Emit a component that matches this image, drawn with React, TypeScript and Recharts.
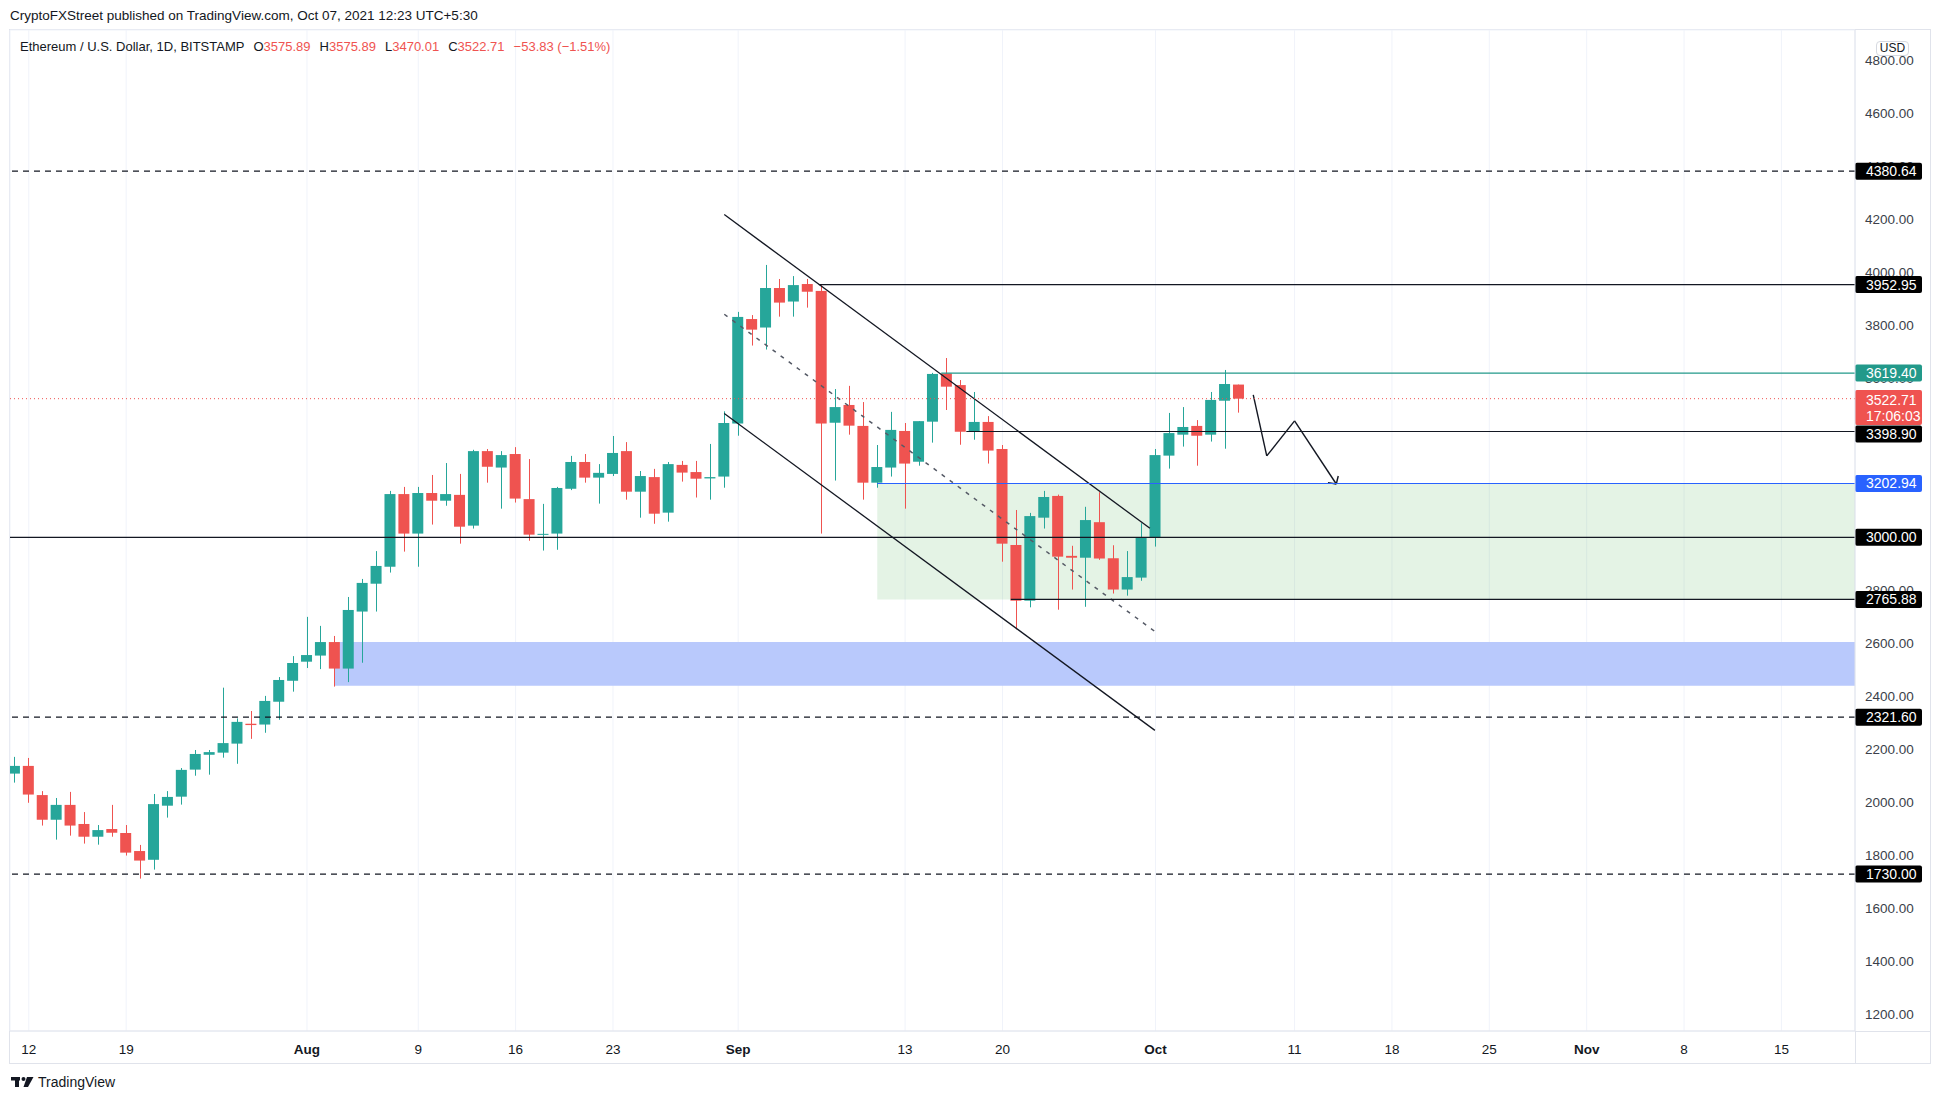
import React from 'react';
import { ComposedChart, Bar, XAxis, YAxis, CartesianGrid, ReferenceLine, ReferenceArea } from 'recharts';

const FONT = '"Liberation Sans", Arial, sans-serif';
const GREEN = '#26a69a';
const RED = '#ef5350';
const TEAL = '#22998a';
const BLUE = '#2962ff';
const INK = '#131722';

// ---- daily candles (1D), ETH/USD Bitstamp ----
const dates = [
  'Jul 11','Jul 12','Jul 13','Jul 14','Jul 15','Jul 16','Jul 17','Jul 18','Jul 19','Jul 20','Jul 21','Jul 22','Jul 23','Jul 24','Jul 25','Jul 26','Jul 27','Jul 28','Jul 29','Jul 30','Jul 31',
  'Aug 1','Aug 2','Aug 3','Aug 4','Aug 5','Aug 6','Aug 7','Aug 8','Aug 9','Aug 10','Aug 11','Aug 12','Aug 13','Aug 14','Aug 15','Aug 16','Aug 17','Aug 18','Aug 19','Aug 20','Aug 21','Aug 22','Aug 23','Aug 24','Aug 25','Aug 26','Aug 27','Aug 28','Aug 29','Aug 30','Aug 31',
  'Sep 1','Sep 2','Sep 3','Sep 4','Sep 5','Sep 6','Sep 7','Sep 8','Sep 9','Sep 10','Sep 11','Sep 12','Sep 13','Sep 14','Sep 15','Sep 16','Sep 17','Sep 18','Sep 19','Sep 20','Sep 21','Sep 22','Sep 23','Sep 24','Sep 25','Sep 26','Sep 27','Sep 28','Sep 29','Sep 30',
  'Oct 1','Oct 2','Oct 3','Oct 4','Oct 5','Oct 6','Oct 7',
];
const opens = [
  2109,2138,2028,1935,1991,1919,1871,1900,1885,1817,1784,1988,2022,2124,2180,2188,2222,2297,2294,2380,2459,
  2531,2554,2605,2505,2720,2825,2889,3163,3014,3167,3138,3160,3044,3325,3263,3314,3144,3010,3014,3183,3284,3225,3239,3325,3172,3227,3093,3273,3246,3222,3229,
  3429,3823,3791,3940,3889,3955,3929,3432,3499,3420,3206,3263,3401,3285,3436,3618,3574,3398,3435,3333,2971,2761,3074,3156,2930,2923,3057,2921,2803,2848,
  2999,3308,3387,3420,3387,3515,3575.89,
];
const highs = [
  2172,2168,2043,2017,2040,1964,1915,1991,1915,1840,2032,2043,2130,2198,2198,2433,2317,2345,2402,2473,2552,
  2700,2666,2628,2775,2843,2948,3175,3190,3190,3235,3280,3239,3330,3333,3325,3340,3295,3126,3190,3307,3314,3276,3382,3359,3250,3258,3284,3288,3288,3352,3475,
  3850,3838,4027,3974,3985,3974,3951,3559,3571,3510,3348,3473,3431,3438,3620,3676,3593,3548,3457,3348,3103,3092,3175,3161,2968,3115,3170,2970,2948,3053,
  3333,3469,3491,3442,3548,3631,3575.89,
];
const lows = [
  2075,1999,1913,1860,1875,1845,1841,1871,1800,1713,1747,1943,1992,2101,2105,2169,2146,2240,2263,2312,2418,
  2507,2503,2437,2454,2527,2720,2867,2946,2889,3048,3119,2976,3033,3206,3108,3131,2987,2950,2953,3178,3206,3127,3231,3142,3074,3051,3059,3210,3150,3142,3187,
  3383,3723,3708,3832,3832,3866,3014,3214,3387,3142,3187,3229,3108,3270,3357,3480,3349,3368,3278,2908,2653,2736,3033,2727,2803,2738,2915,2788,2780,2836,
  2965,3259,3342,3270,3361,3334,3470.01,
];
const closes = [
  2138,2030,1935,1991,1913,1871,1896,1886,1811,1781,1994,2021,2123,2183,2190,2224,2304,2292,2383,2462,2526,
  2556,2605,2505,2726,2828,2892,3163,3014,3167,3138,3163,3040,3325,3266,3310,3146,3010,3013,3186,3284,3225,3243,3318,3172,3231,3089,3276,3244,3221,3227,3431,
  3831,3783,3940,3885,3951,3926,3429,3491,3421,3206,3265,3405,3278,3438,3616,3568,3398,3435,3327,2976,2761,3080,3152,2927,2923,3065,2920,2803,2850,3001,
  3310,3393,3416,3383,3518,3578,3522.71,
];

// time axis: day offsets from Jul 12, 2021 and their labels
const xTickDays = [0, 7, 20, 28, 35, 42, 51, 63, 70, 81, 91, 98, 105, 112, 119, 126];
const xTickLabels = ['12', '19', 'Aug', '9', '16', '23', 'Sep', '13', '20', 'Oct', '11', '18', '25', 'Nov', '8', '15'];
const monthLabels = ['Aug', 'Sep', 'Oct', 'Nov'];

// price axis ticks
const yTicks = [1200, 1400, 1600, 1800, 2000, 2200, 2400, 2600, 2800, 3000, 3200, 3400, 3600, 3800, 4000, 4200, 4400, 4600, 4800];

// horizontal levels
const dashedLevels = [4380.64, 2321.6, 1730.0];
const supportLevel = 3000.0;
const lastPrice = 3522.71;
const countdown = '17:06:03';

const X_MIN = -1.35;
const X_MAX = 131.29;
const Y_MIN = 1138.4;
const Y_MAX = 4912.9;

const candles = dates.map((date, i) => ({
  d: i - 1,
  date,
  open: opens[i],
  high: highs[i],
  low: lows[i],
  close: closes[i],
  range: [lows[i], highs[i]],
}));

const Candle = (props: any) => {
  const { x, y, width, height, payload } = props;
  if (!payload || x == null) return null;
  const { open, close, high, low } = payload;
  const top = Math.min(y, y + height);
  const h = Math.abs(height);
  const ppu = h / ((high - low) || 1);
  const yO = top + (high - open) * ppu;
  const yC = top + (high - close) * ppu;
  const color = close >= open ? GREEN : RED;
  const cx = Math.round(x + width / 2) + 0.5;
  const bTop = Math.min(yO, yC);
  const bH = Math.max(1, Math.abs(yO - yC));
  return (
    <g>
      <line x1={cx} x2={cx} y1={top} y2={top + h} stroke={color} strokeWidth={1} />
      <rect x={x} y={bTop} width={width} height={bH} fill={color} />
    </g>
  );
};

const TimeTick = (props: any) => {
  const { x, payload } = props;
  const idx = xTickDays.indexOf(payload.value);
  const label = idx >= 0 ? xTickLabels[idx] : '';
  const bold = monthLabels.includes(label);
  return (
    <text x={x} y={1031} dy={23} textAnchor="middle" fontSize={13.5} fill={INK} fontWeight={bold ? 700 : 400} fontFamily={FONT}>
      {label}
    </text>
  );
};

// price-axis tick text, drawn at the right end of an invisible level line
const AxisText = (props: any) => {
  const { viewBox, text } = props;
  if (!viewBox) return null;
  const xr = viewBox.x + viewBox.width;
  return (
    <text x={xr + 10} y={viewBox.y} dy={4.8} fill="#3b3f4a" fontSize={13.5} fontFamily={FONT}>{text}</text>
  );
};

const PriceTag = (props: any) => {
  const { viewBox, text, bg, sub, shift = 0 } = props;
  if (!viewBox) return null;
  const xr = viewBox.x + viewBox.width;
  const y = viewBox.y + shift;
  if (sub) {
    return (
      <g>
        <rect x={xr} y={y - 8.7} width={67} height={35} rx={2} fill={bg} />
        <text x={xr + 11} y={y + 1.5} dy={5} fill="#ffffff" fontSize={14} fontFamily={FONT}>{text}</text>
        <text x={xr + 11} y={y + 17.5} dy={5} fill="#ffffff" fontSize={14} fontFamily={FONT}>{sub}</text>
      </g>
    );
  }
  return (
    <g>
      <rect x={xr} y={y - 8.5} width={67} height={17} rx={2} fill={bg} />
      <text x={xr + 11} y={y} dy={5} fill="#ffffff" fontSize={14} fontFamily={FONT}>{text}</text>
    </g>
  );
};

const seg = (x1: number, y1: number, x2: number, y2: number) => [{ x: x1, y: y1 }, { x: x2, y: y2 }];

export default function App() {
  return (
    <div style={{ position: 'absolute', left: 0, top: 0, width: 1941, height: 1103, background: '#ffffff', fontFamily: FONT, overflow: 'hidden' }}>
      <div style={{ position: 'absolute', left: 10, top: 8, fontSize: 13.5, color: INK, whiteSpace: 'nowrap' }}>
        CryptoFXStreet published on TradingView.com, Oct 07, 2021 12:23 UTC+5:30
      </div>
      {/* chart frame */}
      <div style={{ position: 'absolute', left: 9, top: 29, width: 1922, height: 1035, border: '1px solid #e0e3eb', boxSizing: 'border-box' }} />
      <div style={{ position: 'absolute', left: 1855, top: 1031, width: 1, height: 32, background: '#e0e3eb' }} />
      <div style={{ position: 'absolute', left: 1855, top: 1031, width: 75, height: 1, background: '#e0e3eb' }} />

      <ComposedChart
        width={1941}
        height={1103}
        data={candles}
        margin={{ top: 30, right: 11, bottom: 40, left: 10 }}
        style={{ position: 'absolute', left: 0, top: 0 }}
      >
        <CartesianGrid stroke="#f0f3fa" />
        <XAxis
          type="number"
          dataKey="d"
          domain={[X_MIN, X_MAX]}
          allowDataOverflow
          ticks={xTickDays}
          interval={0}
          height={32}
          axisLine={{ stroke: '#e0e3eb' }}
          tickLine={false}
          tick={<TimeTick />}
        />
        <YAxis
          orientation="right"
          type="number"
          domain={[Y_MIN, Y_MAX]}
          allowDataOverflow
          ticks={yTicks}
          interval={0}
          width={75}
          axisLine={{ stroke: '#e0e3eb' }}
          tickLine={false}
          tick={false}
        />
        <ReferenceArea x1={22} x2={X_MAX} y1={2440} y2={2605} fill="#b9c9fc" fillOpacity={1} stroke="none" ifOverflow="visible" />
        <ReferenceArea x1={61} x2={X_MAX} y1={2765.88} y2={3202.94} fill="#4caf50" fillOpacity={0.15} stroke="none" ifOverflow="visible" />

        <Bar dataKey="range" barSize={11} shape={(p: any) => <Candle {...p} />} isAnimationActive={false} />

        {/* channel */}
        <ReferenceLine segment={seg(50, 4217, 80.6, 3034)} stroke={INK} strokeWidth={1.3} ifOverflow="visible" />
        <ReferenceLine segment={seg(50, 3467, 80.96, 2272)} stroke={INK} strokeWidth={1.3} ifOverflow="visible" />
        <ReferenceLine segment={seg(50, 3841, 80.98, 2644)} stroke="#555a66" strokeWidth={1.5} strokeDasharray="4 6" ifOverflow="visible" />

        {/* projected path */}
        <ReferenceLine segment={seg(88.03, 3537, 89.0, 3307)} stroke={INK} strokeWidth={1.4} ifOverflow="visible" />
        <ReferenceLine segment={seg(89.0, 3307, 91.0, 3439)} stroke={INK} strokeWidth={1.4} ifOverflow="visible" />
        <ReferenceLine segment={seg(91.0, 3439, 94.0, 3201)} stroke={INK} strokeWidth={1.4} ifOverflow="visible" />
        <ReferenceLine segment={seg(93.4, 3206, 94.0, 3201)} stroke={INK} strokeWidth={1.4} ifOverflow="visible" />
        <ReferenceLine segment={seg(94.14, 3231, 94.0, 3201)} stroke={INK} strokeWidth={1.4} ifOverflow="visible" />

        {/* price-axis tick labels */}
        {yTicks.map((t) => (
          <ReferenceLine key={'t' + t} y={t} stroke="none" strokeOpacity={0} ifOverflow="visible"
            label={<AxisText text={t.toFixed(2)} />} />
        ))}

        <ReferenceLine y={supportLevel} stroke={INK} strokeWidth={1.2} ifOverflow="visible"
          label={<PriceTag text={supportLevel.toFixed(2)} bg="#000000" />} />
        {dashedLevels.map((v) => (
          <ReferenceLine key={v} y={v} stroke={INK} strokeWidth={1.2} strokeDasharray="6 5" ifOverflow="visible"
            label={<PriceTag text={v.toFixed(2)} bg="#000000" />} />
        ))}
        <ReferenceLine segment={seg(56.8, 3952.95, X_MAX, 3952.95)} stroke={INK} strokeWidth={1.2} ifOverflow="visible"
          label={<PriceTag text="3952.95" bg="#000000" />} />
        <ReferenceLine segment={seg(65.6, 3619.4, X_MAX, 3619.4)} stroke={TEAL} strokeWidth={1.2} ifOverflow="visible"
          label={<PriceTag text="3619.40" bg={TEAL} />} />
        <ReferenceLine segment={seg(67.4, 3398.9, X_MAX, 3398.9)} stroke={INK} strokeWidth={1.2} ifOverflow="visible"
          label={<PriceTag text="3398.90" bg="#000000" shift={2.5} />} />
        <ReferenceLine segment={seg(61, 3202.94, X_MAX, 3202.94)} stroke={BLUE} strokeWidth={1.2} ifOverflow="visible"
          label={<PriceTag text="3202.94" bg={BLUE} />} />
        <ReferenceLine segment={seg(70.6, 2765.88, X_MAX, 2765.88)} stroke={INK} strokeWidth={1.2} ifOverflow="visible"
          label={<PriceTag text="2765.88" bg="#000000" />} />
        <ReferenceLine y={lastPrice} stroke={RED} strokeDasharray="1 3" ifOverflow="visible"
          label={<PriceTag text={lastPrice.toFixed(2)} sub={countdown} bg={RED} />} />
      </ComposedChart>

      {/* legend */}
      <div style={{ position: 'absolute', left: 20, top: 39, fontSize: 13, color: INK, whiteSpace: 'nowrap' }}>
        <span>Ethereum / U.S. Dollar, 1D, BITSTAMP</span>
        <span style={{ marginLeft: 9 }}>O</span><span style={{ color: RED }}>3575.89</span>
        <span style={{ marginLeft: 9 }}>H</span><span style={{ color: RED }}>3575.89</span>
        <span style={{ marginLeft: 9 }}>L</span><span style={{ color: RED }}>3470.01</span>
        <span style={{ marginLeft: 9 }}>C</span><span style={{ color: RED }}>3522.71</span>
        <span style={{ marginLeft: 9, color: RED }}>−53.83 (−1.51%)</span>
      </div>
      {/* currency badge */}
      <div style={{ position: 'absolute', left: 1876, top: 41, width: 33, height: 15, border: '1px solid #d6d9e0', borderRadius: 4, background: '#fff', fontSize: 12, color: INK, textAlign: 'center', lineHeight: '13px', boxSizing: 'border-box' }}>
        USD
      </div>
      {/* footer logo */}
      <div style={{ position: 'absolute', left: 11, top: 1074, display: 'flex', alignItems: 'center', fontSize: 14, color: INK }}>
        <svg width={23} height={10} viewBox="0 0 23 10" style={{ marginRight: 4 }}>
          <rect x={0} y={0} width={9} height={3.5} fill={INK} />
          <rect x={4} y={0} width={4} height={10} fill={INK} />
          <circle cx={12.5} cy={2} r={2} fill={INK} />
          <path d="M16 0 H22.5 L17 10 H12.5 Z" fill={INK} />
        </svg>
        <span>TradingView</span>
      </div>
    </div>
  );
}
